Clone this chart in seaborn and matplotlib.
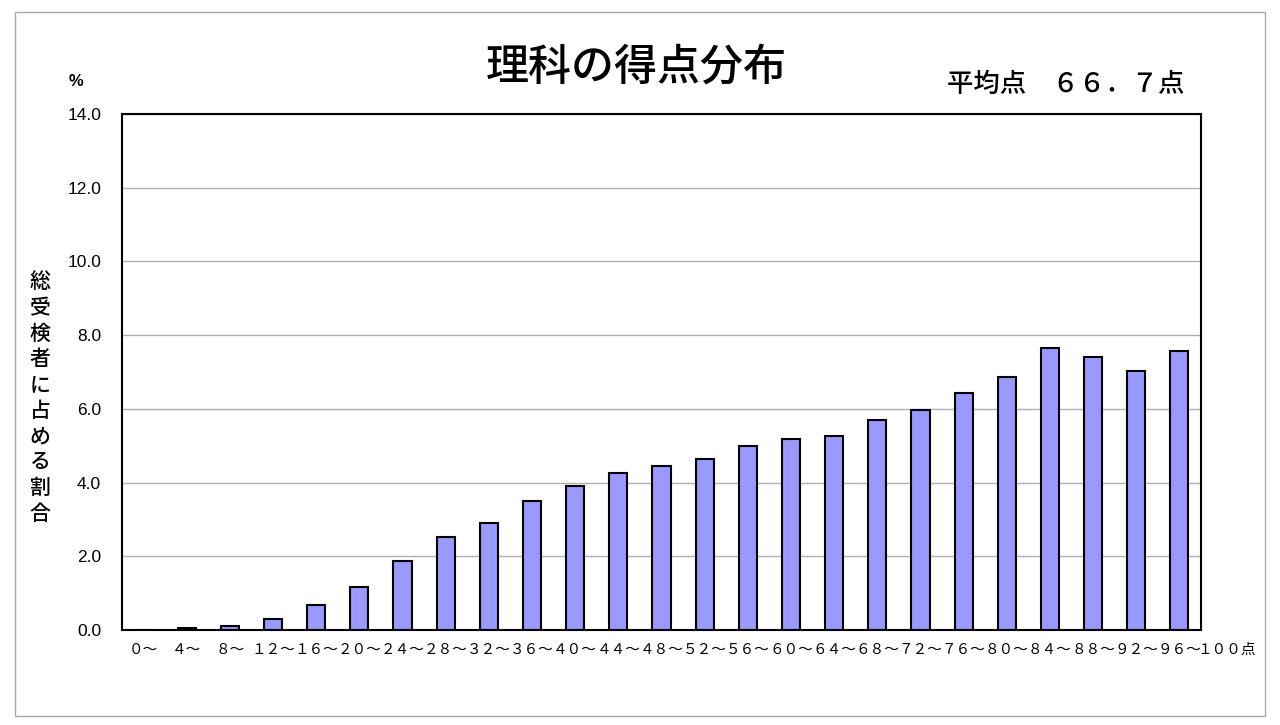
import seaborn as sns
import pandas as pd
import matplotlib.pyplot as plt
from matplotlib.patches import Rectangle
from matplotlib.ticker import FormatStrFormatter, MultipleLocator

# 得点帯 (0~ ... 96~) と総受検者に占める割合(%)
bins = ['０～', '４～', '８～', '１２～', '１６～', '２０～', '２４～', '２８～', '３２～',
        '３６～', '４０～', '４４～', '４８～', '５２～', '５６～', '６０～', '６４～',
        '６８～', '７２～', '７６～', '８０～', '８４～', '８８～', '９２～', '９６～']
pct = [0.0, 0.05, 0.12, 0.30, 0.69, 1.17, 1.87, 2.52, 2.89, 3.49, 3.90, 4.25, 4.44,
       4.63, 5.00, 5.18, 5.26, 5.71, 5.96, 6.43, 6.87, 7.64, 7.41, 7.03, 7.56]
end_label = '１００点'
yticks = [0, 2, 4, 6, 8, 10, 12, 14]

title = '理科の得点分布'
mean_text = '平均点　６６．７点'
ylabel = '総受検者に占める割合'

df = pd.DataFrame({'bin': bins, 'pct': pct})

sns.set_style('white')
plt.rcParams['font.family'] = ['Noto Sans CJK JP', 'DejaVu Sans']
plt.rcParams['text.color'] = 'black'
plt.rcParams['xtick.color'] = 'black'
plt.rcParams['ytick.color'] = 'black'

fig = plt.figure(figsize=(12.8, 7.25), dpi=100)
ax = fig.add_axes([122/1280, 1-630/725, (1201-122)/1280, (630-114)/725])

sns.barplot(data=df, x='bin', y='pct', color='#9999FF', saturation=1,
            edgecolor='black', linewidth=1.5, width=0.42, ax=ax)

ax.set_xlim(-0.5, len(bins)-0.5)
ax.set_ylim(0, 14)
ax.set_yticks(yticks)
ax.yaxis.set_major_formatter(FormatStrFormatter('%.1f'))
ax.yaxis.grid(True, color='#b0b0b0', linewidth=1)
ax.set_axisbelow(True)
for s in ax.spines.values():
    s.set_visible(True)
    s.set_color('black')
    s.set_linewidth(1.5)

ax.set_xlabel('')
ax.set_ylabel('')
ax.tick_params(axis='x', which='major', length=0, pad=9, labelsize=10.5)
ax.tick_params(axis='y', which='major', length=0, pad=15, labelsize=12.5,
               labelfontfamily='Liberation Sans')
ax.xaxis.set_minor_locator(MultipleLocator(1, offset=0.5))
ax.tick_params(axis='x', which='minor', direction='in', length=4, color='#888888')

ax.annotate(end_label, xy=(25.1, 0), xycoords=('data', 'axes fraction'),
            xytext=(0, -9), textcoords='offset points', ha='center', va='top',
            fontsize=10.5, annotation_clip=False)

fig.text(636/1280, 1-67/725, title, ha='center', va='center', fontsize=31,
         weight='medium')
fig.text(1066/1280, 1-84/725, mean_text, ha='center', va='center', fontsize=19,
         weight='medium')
fig.text(76/1280, 1-82/725, '%', ha='center', va='center', fontsize=12,
         family='Liberation Sans', weight='bold')
fig.text(40/1280, 1-398/725, '\n'.join(ylabel), ha='center', va='center',
         fontsize=15, linespacing=1.22, weight='medium')

fig.patches.append(Rectangle((15/1280, 1-716/725), 1250/1280, 704/725,
                             transform=fig.transFigure, fill=False,
                             edgecolor='#aaaaaa', linewidth=1))

plt.savefig('out.png', dpi=100)
